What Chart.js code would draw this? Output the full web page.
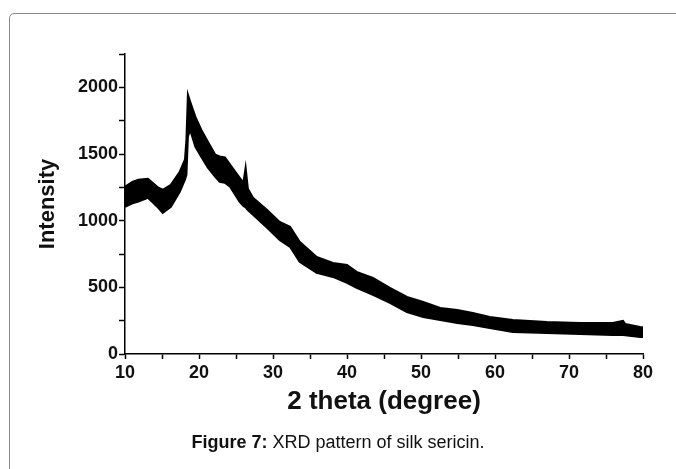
<!DOCTYPE html>
<html>
<head>
<meta charset="utf-8">
<script src="https://cdn.jsdelivr.net/npm/chart.js@4"></script>
<style>
	body { margin: 0; background: #fff; width: 676px; height: 469px; overflow: hidden; position: relative; }
	#frame { position: absolute; left: 9px; top: 13px; width: 700px; height: 500px; border: 1px solid #8a8a8a; border-radius: 5px; }
	#wrap { position: absolute; left: 0; top: 0; width: 676px; height: 469px; }
	#caption { position: absolute; left: 0; width: 676px; top: 432px; text-align: center; font-family: 'Liberation Sans', Arial, sans-serif; font-size: 18px; color: #111; }
</style>
</head>
<body>
<div id="frame"></div>
<div id="wrap"><canvas id="chart" width="676" height="469"></canvas></div>
<div id="caption"><b>Figure 7:</b> XRD pattern of silk sericin.</div>
<script>
// 2 theta positions
const angles = [10, 11, 11.8, 13.1, 14.5, 15.1, 16.2, 17.4, 18.1, 18.3, 18.5, 18.8, 19.5, 20.3, 21.2, 22.2, 22.8, 23.5, 24.2, 25.5, 26.0, 26.3, 26.6, 27.3, 29.2, 30.9, 32.3, 33.6, 35.9, 38.1, 40.0, 41.3, 43.5, 45.8, 48.1, 50.3, 52.6, 54.9, 57.0, 59.3, 62.4, 67.0, 71.5, 75.9, 77.3, 77.6, 79.6, 80]
// top and bottom edge of the noisy trace
const upper = [1254, 1290, 1307, 1314, 1247, 1232, 1269, 1367, 1457, 1607, 1945, 1893, 1780, 1682, 1592, 1495, 1482, 1475, 1420, 1322, 1285, 1397, 1240, 1172, 1081, 991, 954, 841, 728, 683, 668, 616, 571, 496, 428, 390, 345, 330, 308, 278, 255, 240, 233, 233, 248, 225, 203, 200]
const lower = [1104, 1130, 1144, 1172, 1097, 1059, 1104, 1217, 1307, 1344, 1630, 1682, 1555, 1480, 1397, 1329, 1292, 1284, 1254, 1141, 1110, 1100, 1080, 1044, 946, 856, 804, 691, 608, 578, 533, 496, 443, 383, 315, 278, 255, 233, 218, 195, 165, 158, 150, 143, 143, 140, 128, 128]

const toPoints = (ys) => angles.map((x, i) => ({ x, y: ys[i] }))

const context = document.getElementById('chart').getContext('2d')
const chart = new Chart(context, {
	type: 'line',
	data: {
		datasets: [
			{
				data: toPoints(upper),
				borderColor: '#000',
				borderWidth: 2,
				pointRadius: 0,
				fill: false,
			},
			{
				data: toPoints(lower),
				borderColor: '#000',
				borderWidth: 2,
				pointRadius: 0,
				backgroundColor: '#000',
				fill: '-1',
			},
		],
	},
	options: {
		responsive: false,
		animation: false,
		layout: { padding: { left: 35, right: 33, top: 54, bottom: 52 } },
		plugins: { legend: { display: false }, tooltip: { enabled: false } },
		scales: {
			x: {
				type: 'linear',
				min: 10,
				max: 80,
				border: { color: '#000', width: 1.5 },
				grid: { drawOnChartArea: false, tickLength: 5, tickColor: '#000', tickWidth: 1.5 },
				ticks: {
					stepSize: 5,
					padding: 3,
					maxRotation: 0,
					color: '#111',
					font: { family: 'Liberation Sans', size: 18, weight: 'bold' },
					callback: (value) => (value % 10 === 0 ? value : ''),
				},
				title: {
					display: true,
					text: '2 theta (degree)',
					color: '#111',
					padding: 0,
					font: { family: 'Liberation Sans', size: 26, weight: 'bold' },
				},
				afterFit: (scale) => { scale.height = 63 },
			},
			y: {
				min: 0,
				max: 2250,
				border: { color: '#000', width: 1.5 },
				grid: { drawOnChartArea: false, tickLength: 6, tickColor: '#000', tickWidth: 1.5 },
				ticks: {
					stepSize: 250,
					padding: 1,
					color: '#111',
					font: { family: 'Liberation Sans', size: 18, weight: 'bold' },
					callback: (value) => (value % 500 === 0 ? value : ''),
				},
				title: {
					display: true,
					text: 'Intensity',
					color: '#111',
					padding: 0,
					font: { family: 'Liberation Sans', size: 22, weight: 'bold' },
				},
				afterFit: (scale) => { scale.width = 90 },
			},
		},
	},
})
</script>
</body>
</html>
